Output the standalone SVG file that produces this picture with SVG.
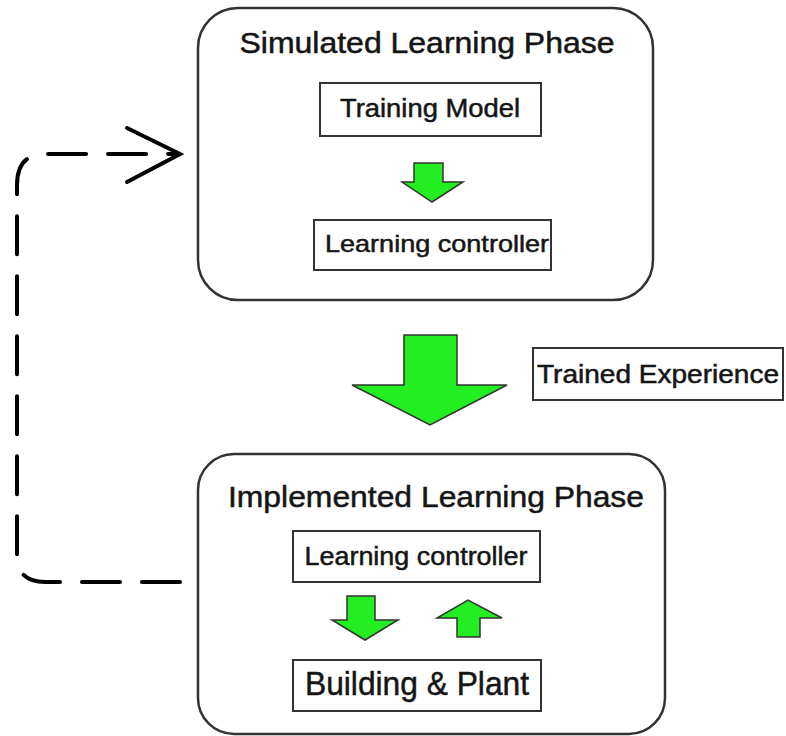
<svg xmlns="http://www.w3.org/2000/svg" width="786" height="736" viewBox="0 0 786 736">
<style>
.phase{fill:#fff;stroke:#333;stroke-width:2.5}
.box{fill:#fff;stroke:#333;stroke-width:2}
.arr{fill:#22ee22;stroke:#333;stroke-width:1.5;stroke-linejoin:miter}
.t{font-family:"Liberation Sans",Arial,sans-serif;fill:#151515;stroke:#151515;stroke-width:0.5;text-anchor:middle}
.dash{fill:none;stroke:#000;stroke-width:4;stroke-dasharray:38 22;stroke-linecap:round}
</style>
<g id="simulated-phase">
<rect class="phase" x="198" y="8" width="455" height="292" rx="40" ry="40"/>
<text class="t" x="427" y="53" font-size="29" textLength="375" lengthAdjust="spacingAndGlyphs">Simulated Learning Phase</text>
</g>
<g id="training-model">
<rect class="box" x="320" y="83" width="221" height="53"/>
<text class="t" x="430" y="117" font-size="26" textLength="180" lengthAdjust="spacingAndGlyphs">Training Model</text>
</g>
<g id="arrow-small-1">
<polygon class="arr" points="414,163 443,163 443,182 463,182 432,202 402,182 414,182"/>
</g>
<g id="learning-controller-1">
<rect class="box" x="314" y="220" width="237" height="50"/>
<text class="t" x="437" y="252" font-size="24" textLength="224" lengthAdjust="spacingAndGlyphs">Learning controller</text>
</g>
<g id="arrow-big">
<polygon class="arr" points="404,335 457,335 457,385 507,385 430,425 352,385 404,385"/>
</g>
<g id="trained-experience">
<rect class="box" x="533" y="348" width="250" height="52"/>
<text class="t" x="658" y="383" font-size="25" textLength="242" lengthAdjust="spacingAndGlyphs">Trained Experience</text>
</g>
<g id="implemented-phase">
<rect class="phase" x="198" y="454" width="467" height="280" rx="36" ry="36"/>
<text class="t" x="436" y="507" font-size="30" textLength="416" lengthAdjust="spacingAndGlyphs">Implemented Learning Phase</text>
</g>
<g id="learning-controller-2">
<rect class="box" x="293" y="531" width="247" height="51"/>
<text class="t" x="416" y="565" font-size="25" textLength="223" lengthAdjust="spacingAndGlyphs">Learning controller</text>
</g>
<g id="arrow-down">
<polygon class="arr" points="347,596 375,596 375,620 398,620 365,640 332,620 347,620"/>
</g>
<g id="arrow-up">
<polygon class="arr" points="457,637 480,637 480,618 502,618 468,600 437,618 457,618"/>
</g>
<g id="building-plant">
<rect class="box" x="293" y="660" width="248" height="51"/>
<text class="t" x="417" y="695" font-size="34" textLength="224" lengthAdjust="spacingAndGlyphs">Building &amp; Plant</text>
</g>
<g id="connectors">
<path class="dash" d="M180,582 H45 Q17,582 17,555 V185 Q17,154 45,154 H178"/>
<polyline points="127,128 180,154 127,182" fill="none" stroke="#000" stroke-width="4" stroke-linecap="round" stroke-linejoin="miter"/>
</g>
</svg>
